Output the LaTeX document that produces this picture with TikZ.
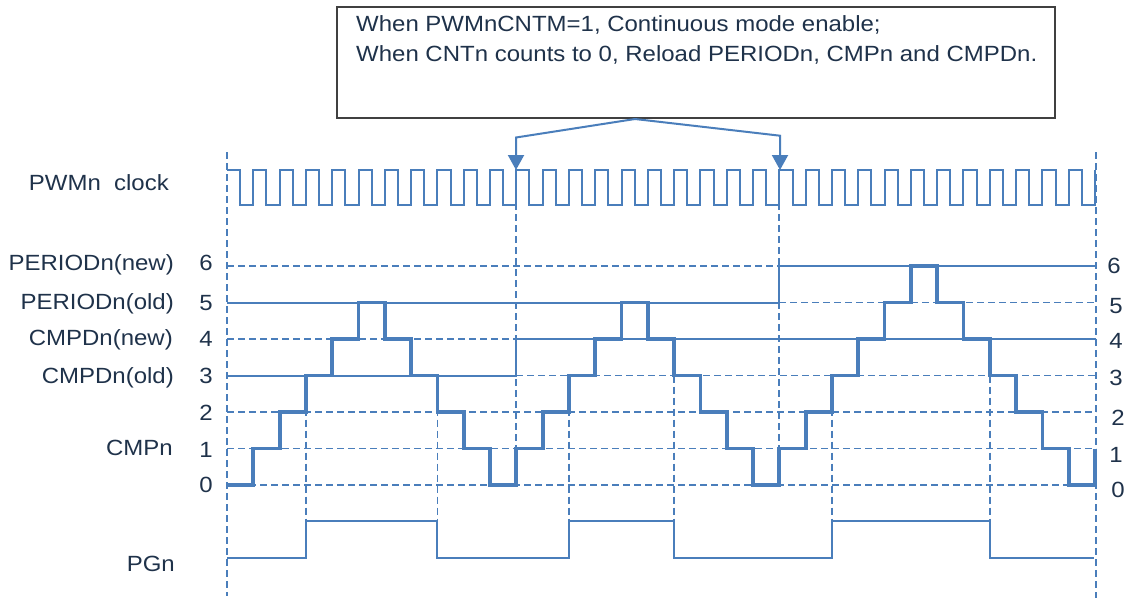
\documentclass[tikz,border=0pt]{standalone}
\usepackage{fontspec}
\setmainfont{Liberation Sans}[FakeStretch=1.09]
\usetikzlibrary{arrows.meta}
\definecolor{wblue}{HTML}{4A7EBB}
\definecolor{txt}{HTML}{1F324A}
\definecolor{boxc}{HTML}{404040}
\begin{document}
\begin{tikzpicture}[x=1pt,y=-1pt,
  thinline/.style={wblue, line width=2pt},
  gridline/.style={wblue, line width=1.8pt, dash pattern=on 7pt off 4pt},
  stair/.style={wblue, line width=3.8pt},
  lbl/.style={text=txt, font=\fontsize{22}{26}\selectfont, inner sep=0pt},
  tipstyle/.style={-{Triangle[width=16pt,length=15pt]}}]
\useasboundingbox (0,0) rectangle (1129,598);

% dashed reference lines
\draw[gridline] (227,152) -- (227,596);
\draw[gridline] (1096,152) -- (1096,598);
\draw[gridline] (516,170) -- (516,485);
\draw[gridline] (779,170) -- (779,485);
\foreach \xx in {305.91,437.42,568.94,674.15,831.97,989.79}
  \draw[gridline] (\xx,375.5) -- (\xx,521);
\draw[gridline] (227,266) -- (779,266);
\draw[gridline] (779,302.5) -- (1096,302.5);
\draw[gridline] (227,339) -- (516,339);
\draw[gridline] (516,375.5) -- (1096,375.5);
\draw[gridline] (227,412) -- (1096,412);
\draw[gridline] (227,448.5) -- (1096,448.5);
\draw[gridline] (227,485) -- (1096,485);

% solid register lines
\draw[thinline] (227,302.5) -- (779,302.5) -- (779,266) -- (1096,266);
\draw[thinline] (227,375.5) -- (516,375.5) -- (516,339) -- (1096,339);

% clock
\draw[thinline] (227,170) \foreach \k in {0,...,32} { -| ({240.15+26.303*\k},205) -| ({253.30+26.303*\k},170) };

% counter staircase
\draw[stair] (227,485) \foreach \k/\n in {1/1,2/2,3/3,4/4,5/5,6/4,7/3,8/2,9/1,10/0,11/1,12/2,13/3,14/4,15/5,16/4,17/3,18/2,19/1,20/0,21/1,22/2,23/3,24/4,25/5,26/6,27/5,28/4,29/3,30/2,31/1,32/0} { -| ({227+26.303*\k},{485-36.5*\n}) } -- (1095,485) -- (1095,448.5);

% PGn
\draw[thinline] (227,557.7) -| (305.91,521) -| (437.42,557.7) -| (568.94,521) -| (674.15,557.7) -| (831.97,521) -| (989.79,557.7) -- (1094,557.7);

% note box
\node[draw=boxc, line width=1.6pt, minimum width=718pt, minimum height=111pt, inner sep=0pt] (box) at (696,62.6) {};
\node[lbl, anchor=base west] (line1) at (356,31.7) {When PWMnCNTM=1, Continuous mode enable;};
\node[lbl, anchor=base west] (line2) at (356,61.7) {When CNTn counts to 0, Reload PERIODn, CMPn and CMPDn.};
\coordinate (apex) at (635,119);
\coordinate (tipL) at (516,170);
\coordinate (tipR) at (780,170);
\draw[thinline, tipstyle] (apex) -- (516,137.5) -- (tipL);
\draw[thinline, tipstyle] (apex) -- (780,135.7) -- (tipR);

% left labels
\node[lbl, anchor=base east] (clk) at (169,190.7) {PWMn\ \ clock};
\node[lbl, anchor=base east] (pnew) at (174,270) {PERIODn(new)};
\node[lbl, anchor=base east] (pold) at (174,309.3) {PERIODn(old)};
\node[lbl, anchor=base east] (dnew) at (173,345) {CMPDn(new)};
\node[lbl, anchor=base east] (dold) at (174,383.3) {CMPDn(old)};
\node[lbl, anchor=base east] (cmp) at (173,455.7) {CMPn};
\node[lbl, anchor=base east] (pg) at (175,571) {PGn};

% left numbers
\node[lbl, anchor=base] (l6) at (206,270) {6};
\node[lbl, anchor=base] (l5) at (206,310.8) {5};
\node[lbl, anchor=base] (l4) at (206,346.8) {4};
\node[lbl, anchor=base] (l3) at (206,383.3) {3};
\node[lbl, anchor=base] (l2) at (206,420.8) {2};
\node[lbl, anchor=base] (l1) at (206,457.8) {1};
\node[lbl, anchor=base] (l0) at (206,492.8) {0};

% right numbers
\node[lbl, anchor=base] (r6) at (1114,273.8) {6};
\node[lbl, anchor=base] (r5) at (1116,313) {5};
\node[lbl, anchor=base] (r4) at (1116,348.8) {4};
\node[lbl, anchor=base] (r3) at (1116,385.8) {3};
\node[lbl, anchor=base] (r2) at (1118,425) {2};
\node[lbl, anchor=base] (r1) at (1116,462) {1};
\node[lbl, anchor=base] (r0) at (1118,497) {0};
\end{tikzpicture}
\end{document}
